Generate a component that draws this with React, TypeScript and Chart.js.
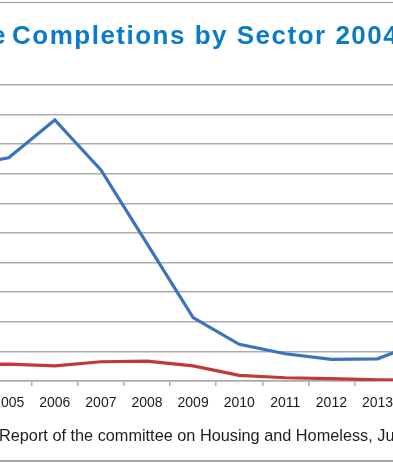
import React, { useEffect, useRef } from "react";
import { Chart, registerables } from "chart.js";

Chart.register(...registerables);

const years = ["2004", "2005", "2006", "2007", "2008", "2009", "2010", "2011", "2012", "2013", "2014"];
const privateCompletions = [72600, 75400, 88200, 71300, 46400, 21400, 12400, 9200, 7300, 7500, 13400];
const socialCompletions = [5600, 5700, 5100, 6500, 6700, 5100, 1900, 1100, 800, 400, 300];
const yMin = 0;
const yMax = 100000;
const yStep = 10000;

const titleHidden = "House";
const titleVisible = "Completions by Sector 2004-2014";
const sourceHidden = "Source: ";
const sourceVisible = "Report of the committee on Housing and Homeless, June 2015";

const GRID = "#ababab";

export default function App() {
  const ref = useRef<HTMLCanvasElement | null>(null);

  useEffect(() => {
    if (!ref.current) return;
    const chart = new Chart(ref.current, {
      type: "line",
      data: {
        labels: years,
        datasets: [
          {
            label: "Private",
            data: privateCompletions,
            borderColor: "#3a74bd",
            borderWidth: 3.2,
            pointRadius: 0,
            tension: 0,
            fill: false,
          },
          {
            label: "Social",
            data: socialCompletions,
            borderColor: "#c2393c",
            borderWidth: 3.2,
            pointRadius: 0,
            tension: 0,
            fill: false,
          },
        ],
      },
      options: {
        responsive: false,
        animation: false,
        devicePixelRatio: 1,
        layout: {
          autoPadding: false,
          padding: { left: 69.55, right: 33.35, top: 85, bottom: 42.2 },
        },
        plugins: {
          legend: { display: false },
          tooltip: { enabled: false },
          title: { display: false },
        },
        scales: {
          x: {
            offset: true,
            grid: {
              offset: true,
              drawOnChartArea: false,
              drawTicks: true,
              tickLength: 5,
              color: GRID,
              lineWidth: 1.5,
            },
            border: { display: true, color: GRID, width: 1.5 },
            ticks: {
              color: "#1a1a1a",
              font: { family: '"Liberation Sans", Arial, sans-serif', size: 14 },
              padding: 9,
              autoSkip: false,
              maxRotation: 0,
            },
          },
          y: {
            min: yMin,
            max: yMax,
            ticks: { display: false, stepSize: yStep },
            grid: { color: GRID, lineWidth: 1.5, drawTicks: false },
            border: { display: false },
          },
        },
      },
    });
    return () => chart.destroy();
  }, []);

  return (
    <div
      style={{
        position: "fixed",
        left: 0,
        top: 0,
        width: 393,
        height: 463,
        overflow: "hidden",
        background: "#ffffff",
      }}
    >
      <div style={{ position: "absolute", left: 0, top: 1.5, width: 393, height: 1.5, background: "#9c9c9c" }} />
      <div style={{ position: "absolute", left: 0, top: 459.5, width: 393, height: 2.5, background: "#a3a3a3" }} />
      <canvas
        ref={ref}
        width={610}
        height={463}
        style={{ position: "absolute", left: -130, top: 0, width: 610, height: 463 }}
      />
      <div
        style={{
          position: "absolute",
          left: 12,
          top: 19.5,
          whiteSpace: "pre",
          fontFamily: '"Liberation Sans", Arial, sans-serif',
          fontWeight: "bold",
          fontSize: 26,
          letterSpacing: 1.5,
          color: "#0a7bcb",
        }}
      >
        <span style={{ position: "absolute", right: "100%", marginRight: 5, top: 0 }}>{titleHidden}</span>
        {titleVisible}
      </div>
      <div
        style={{
          position: "absolute",
          left: -1,
          top: 426,
          whiteSpace: "pre",
          fontFamily: '"Liberation Sans", Arial, sans-serif',
          fontSize: 16.3,
          color: "#1e1e1e",
        }}
      >
        <span style={{ position: "absolute", right: "100%", top: 0 }}>{sourceHidden}</span>
        {sourceVisible}
      </div>
    </div>
  );
}
